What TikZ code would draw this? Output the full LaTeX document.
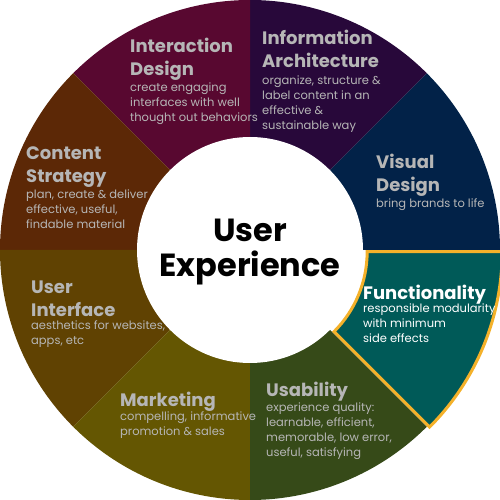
\documentclass[tikz,border=0pt]{standalone}
\usepackage{fontspec}
\setmainfont{Poppins}

\definecolor{labelgray}{HTML}{B6B6B6}
\definecolor{goldline}{HTML}{F4B12A}
\definecolor{ixdcolor}{HTML}{580830}
\definecolor{iacolor}{HTML}{28083A}
\definecolor{vdcolor}{HTML}{022248}
\definecolor{fncolor}{HTML}{005A58}
\definecolor{uscolor}{HTML}{364A18}
\definecolor{mkcolor}{HTML}{645602}
\definecolor{uicolor}{HTML}{604202}
\definecolor{cscolor}{HTML}{5C2806}

\begin{document}
\begin{tikzpicture}[x=1pt, y=1pt,
    heading/.style ={anchor=base west, align=left, inner sep=0pt, text=labelgray,
                     font=\bfseries\fontsize{18}{23}\selectfont},
    summary/.style ={anchor=base west, align=left, inner sep=0pt, text=labelgray,
                     font=\fontsize{11.5}{15}\selectfont}]
   \useasboundingbox (0,0) rectangle (500,500);
   \coordinate (O) at (250,250);
   \coordinate (F) at ([shift={(-22.5:4.5)}]O);

   % ring of topics
   \fill[vdcolor]  (O) -- +(0:250)   arc[start angle=0,   end angle=45,  radius=250] -- cycle;
   \fill[iacolor]  (O) -- +(45:250)  arc[start angle=45,  end angle=90,  radius=250] -- cycle;
   \fill[ixdcolor] (O) -- +(90:250)  arc[start angle=90,  end angle=135, radius=250] -- cycle;
   \fill[cscolor]  (O) -- +(135:250) arc[start angle=135, end angle=180, radius=250] -- cycle;
   \fill[uicolor]  (O) -- +(180:250) arc[start angle=180, end angle=225, radius=250] -- cycle;
   \fill[mkcolor]  (O) -- +(225:250) arc[start angle=225, end angle=270, radius=250] -- cycle;
   \fill[uscolor]  (O) -- +(270:250) arc[start angle=270, end angle=315, radius=250] -- cycle;
   \fill[white]    (O) circle[radius=113];
   % highlighted topic, pulled out a little
   \filldraw[fill=fncolor, draw=goldline, line width=3pt]
       ([shift={(-45:113)}]F) -- ([shift={(-45:248)}]F)
       arc[start angle=-45, end angle=0, radius=248]
       -- ([shift={(0:113)}]F)
       arc[start angle=0, end angle=-45, radius=113] -- cycle;

   \node[font=\bfseries\fontsize{32}{35}\selectfont, align=center, anchor=base] (UX) at (250,223) {User\\Experience};

   \node[heading] (IxD) at (130,424) {Interaction\\Design};
   \node[summary] (IxDtext) at (130,378) {create engaging\\interfaces with well\\thought out behaviors};

   \node[heading] (IA) at (262,432) {Information\\Architecture};
   \node[summary] (IAtext) at (262,370) {organize, structure \&\\label content in an\\effective \&\\sustainable way};

   \node[heading] (VD) at (376,308) {Visual\\Design};
   \node[summary] (VDtext) at (376,292) {bring brands to life};

   \node[heading] (CS) at (26,317) {Content\\Strategy};
   \node[summary] (CStext) at (26,271) {plan, create \& deliver\\effective, useful,\\findable material};

   \node[heading] (UI) at (31,183) {User\\Interface};
   \node[summary] (UItext) at (31,155) {aesthetics for websites,\\apps, etc};

   \node[heading] (MK) at (120,93) {Marketing};
   \node[summary] (MKtext) at (120,64) {compelling, informative\\promotion \& sales};

   \node[heading, text=white] (FN) at (363,200) {Functionality};
   \node[summary, text=white] (FNtext) at (363,157) {responsible modularity\\with minimum\\side effects};

   \node[heading] (US) at (266,103) {Usability};
   \node[summary] (UStext) at (266,43) {experience quality:\\learnable, efficient,\\memorable, low error,\\useful, satisfying};
\end{tikzpicture}
\end{document}
